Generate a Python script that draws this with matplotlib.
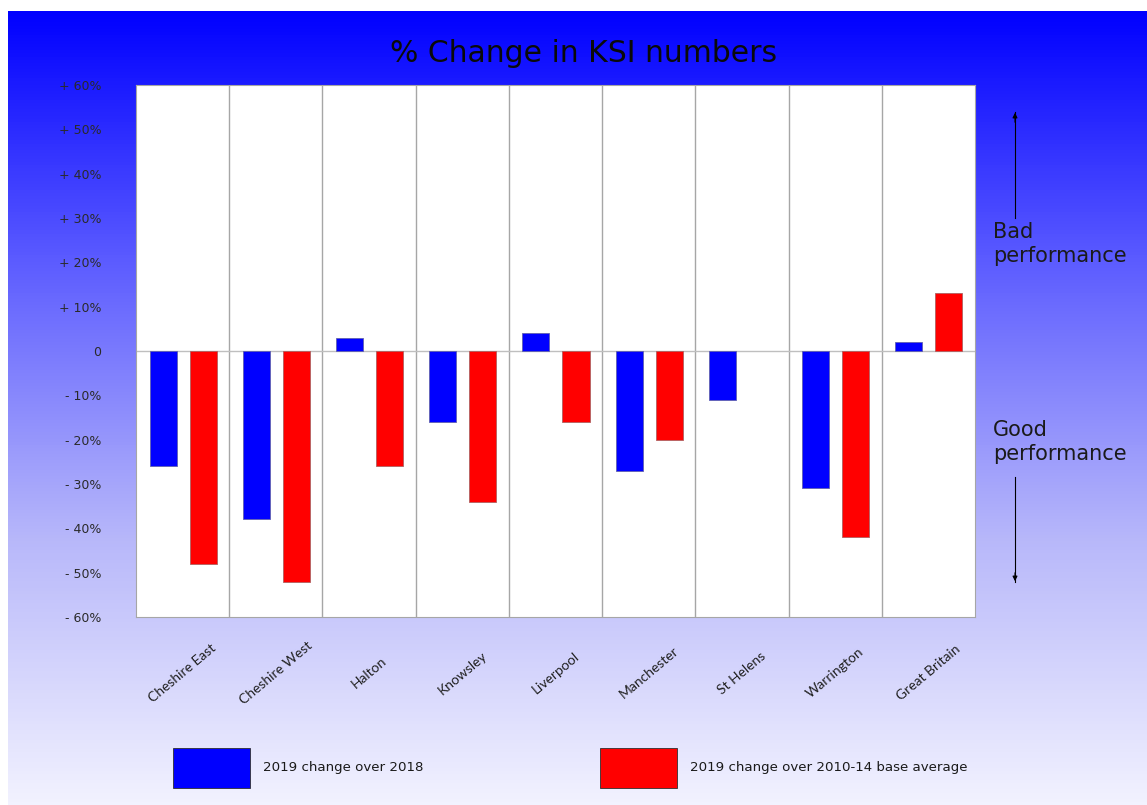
import numpy as np
import matplotlib.pyplot as plt
from matplotlib.colors import LinearSegmentedColormap
from matplotlib.patches import Rectangle

areas = ["Cheshire East", "Cheshire West", "Halton", "Knowsley", "Liverpool",
         "Manchester", "St Helens", "Warrington", "Great Britain"]
change_2018 = [-26, -38, 3, -16, 4, -27, -11, -31, 2]
change_base = [-48, -52, -26, -34, -16, -20, np.nan, -42, 13]
yticks = list(range(-60, 61, 10))
legend_labels = ["2019 change over 2018", "2019 change over 2010-14 base average"]

W, H = 1147, 805


def fx(px):
    return px / W


def fy(py):
    return 1 - py / H


fig = plt.figure(figsize=(W / 100, H / 100), dpi=100)

# slide background gradient
bg = fig.add_axes([fx(8), 0, 1 - fx(8), fy(11)])
grad = np.linspace(0, 1, 256)[:, None]
cmap = LinearSegmentedColormap.from_list(
    "bg", [(0.0, 0.0, 1.0), (0.38, 0.38, 1.0), (0.72, 0.72, 0.98), (0.95, 0.95, 1.0)])
bg.imshow(grad, aspect="auto", cmap=cmap, extent=[0, 1, 0, 1])
bg.axis("off")

ax = fig.add_axes([fx(136), fy(617), fx(975 - 136), (617 - 85) / H])
ax.set_facecolor("white")
x = np.arange(len(areas))
ax.bar(x - 0.21, change_2018, 0.29, color="#0000ff", edgecolor="#6060b0", lw=0.6, zorder=3)
ax.bar(x + 0.22, change_base, 0.29, color="#ff0000", edgecolor="#b06060", lw=0.6, zorder=3)
ax.set_xlim(-0.5, len(areas) - 0.5)
ax.set_ylim(-60, 60)
for b in np.arange(0.5, len(areas) - 0.5):
    ax.axvline(b, color="#a6a6a6", lw=1, zorder=1)
ax.axhline(0, color="#bfbfbf", lw=1, zorder=2)
for s in ax.spines.values():
    s.set_color("#a6a6a6")

ax.set_yticks(yticks)
ax.set_yticklabels(["0" if v == 0 else ("+ %d%%" % v if v > 0 else "- %d%%" % -v) for v in yticks],
                   fontsize=9, color="#2a2a2a")
ax.tick_params(axis="y", length=0, pad=25)
ax.set_xticks([])
for i, name in enumerate(areas):
    ax.text(i, -0.105, name, transform=ax.get_xaxis_transform(), rotation=40,
            ha="center", va="center", fontsize=10, family="Lato", color="#202020")

fig.text(fx(584), fy(53), "% Change in KSI numbers", fontsize=21.5, ha="center", va="center",
         color="#0a0a0a")

# legend boxes
for left, col, txt in [(173, "#0000ff", legend_labels[0]), (600, "#ff0000", legend_labels[1])]:
    fig.add_artist(Rectangle((fx(left), fy(788)), fx(77), 40 / H, transform=fig.transFigure,
                             facecolor=col, edgecolor="#303030", lw=0.6))
    fig.text(fx(left + 90), fy(767), txt, fontsize=9.6, ha="left", va="center", color="#1a1a1a")

# performance notes
fig.text(fx(993), fy(244), "Bad\nperformance", fontsize=15, ha="left", va="center",
         color="#1a1a1a", linespacing=1.25)
fig.text(fx(993), fy(442), "Good\nperformance", fontsize=15, ha="left", va="center",
         color="#1a1a1a", linespacing=1.25)
fig.add_artist(plt.Line2D([fx(1015)] * 2, [fy(218), fy(112)], color="black", lw=0.8))
fig.add_artist(plt.Line2D([fx(1015)] * 2, [fy(477), fy(582)], color="black", lw=0.8))
ax.annotate("", xy=(fx(1015), fy(110)), xytext=(fx(1015), fy(125)), xycoords="figure fraction",
            arrowprops=dict(arrowstyle="-|>", color="black", lw=0.8, mutation_scale=7))
ax.annotate("", xy=(fx(1015), fy(584)), xytext=(fx(1015), fy(570)), xycoords="figure fraction",
            arrowprops=dict(arrowstyle="-|>", color="black", lw=0.8, mutation_scale=7))

fig.savefig("out.png", dpi=100)
